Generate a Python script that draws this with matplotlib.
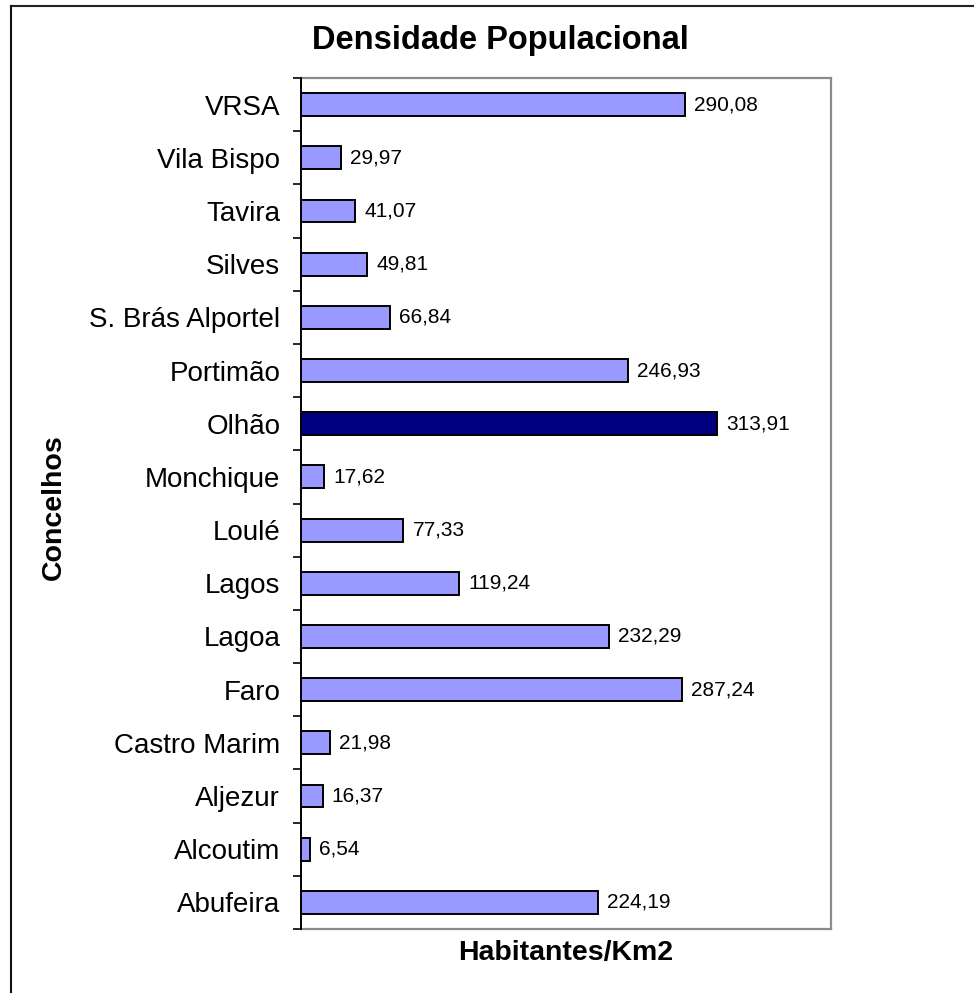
import matplotlib
matplotlib.use("Agg")
import matplotlib.pyplot as plt
from matplotlib.lines import Line2D
import numpy as np

categories = ["Abufeira", "Alcoutim", "Aljezur", "Castro Marim", "Faro", "Lagoa",
              "Lagos", "Loulé", "Monchique", "Olhão", "Portimão", "S. Brás Alportel",
              "Silves", "Tavira", "Vila Bispo", "VRSA"]
values = [224.19, 6.54, 16.37, 21.98, 287.24, 232.29, 119.24, 77.33, 17.62,
          313.91, 246.93, 66.84, 49.81, 41.07, 29.97, 290.08]
value_labels = ["224,19", "6,54", "16,37", "21,98", "287,24", "232,29", "119,24",
                "77,33", "17,62", "313,91", "246,93", "66,84", "49,81", "41,07",
                "29,97", "290,08"]
highlight = "Olhão"

plt.rcParams['font.family'] = ['Liberation Sans', 'DejaVu Sans']

W, H = 974, 993
fig = plt.figure(figsize=(W / 100, H / 100), dpi=100)
fig.patch.set_facecolor("white")

left, right, top, bottom = 301, 831, 78, 929
ax = fig.add_axes([left / W, 1 - bottom / H, (right - left) / W, (bottom - top) / H])

y = np.arange(len(categories))
colors = ["#000080" if c == highlight else "#9999FF" for c in categories]
ax.barh(y, values, height=0.43, color=colors, edgecolor="black", linewidth=1.4, zorder=3)

for yi, v, lab in zip(y, values, value_labels):
    ax.annotate(lab, xy=(v, yi), xytext=(6.5, 0), textcoords="offset points",
                ha="left", va="center", fontsize=15, color="black")

ax.set_xlim(0, 400)
ax.set_ylim(-0.5, len(categories) - 0.5)

ax.set_yticks(y)
ax.set_yticklabels(categories, fontsize=20)
ax.set_yticks(np.arange(-0.5, len(categories)), minor=True)
ax.tick_params(axis="y", which="major", length=0, pad=15)
ax.tick_params(axis="y", which="minor", length=6, width=1.2, color="black")
ax.set_xticks([])

for side in ["top", "right", "bottom"]:
    ax.spines[side].set_color("#8c8c8c")
    ax.spines[side].set_linewidth(1.6)
ax.spines["left"].set_color("black")
ax.spines["left"].set_linewidth(1.4)
ax.spines["left"].set_zorder(5)

fig.text(500 / W, 1 - 40 / H, "Densidade Populacional", ha="center", va="center",
         fontsize=23.5, fontweight="bold")
fig.text(566 / W, 1 - 953 / H, "Habitantes/Km2", ha="center", va="center",
         fontsize=20.5, fontweight="bold")
fig.text(54 / W, 1 - 507 / H, "Concelhos", ha="center", va="center",
         fontsize=20.5, fontweight="bold", rotation=90)

# outer chart border (top and left edges visible)
fig.add_artist(Line2D([10.5 / W, 1.01], [1 - 6 / H, 1 - 6 / H], transform=fig.transFigure,
                      color="#222222", linewidth=1.5))
fig.add_artist(Line2D([10.5 / W, 10.5 / W], [1 - 6 / H, -0.01], transform=fig.transFigure,
                      color="#111111", linewidth=1.5))

fig.savefig("out.png", dpi=100, facecolor="white")
